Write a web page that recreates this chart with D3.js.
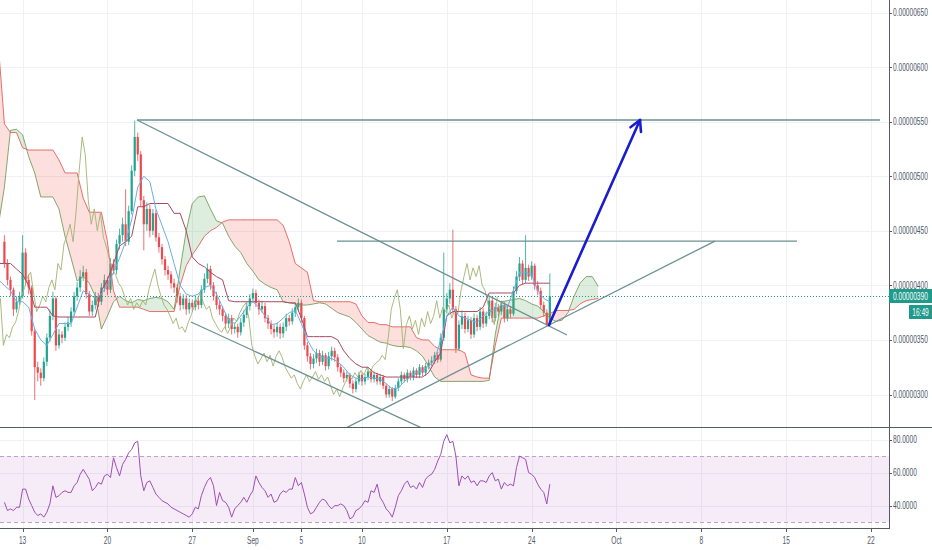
<!DOCTYPE html>
<html>
<head>
<meta charset="utf-8">
<script src="https://cdn.jsdelivr.net/npm/d3@7"></script>
<style>
  body { margin: 0; background: #fff; }
  text { font-family: "Liberation Sans", Arial, sans-serif; }
</style>
</head>
<body>
<script>
// prices are in units of 1e-8 (390 = 0.00000390)
const candleStart = "2018-08-11T12:00";
const candleStepHours = 6;

const opens = [
  440,420,405,396,378,385,390,430,405,398, 358,325,320,315,330,352,372,388,345,355,
  352,362,366,376,390,398,408,412,392,376, 382,390,385,398,405,396,420,414,438,446,
  456,440,468,505,536,520,478,456,470,450, 466,444,435,424,414,410,402,398,390,382,
  388,378,384,380,386,382,396,406,415,400, 390,382,378,372,365,370,360,362,357,366,
  373,381,388,393,384,378,381,370,365,360, 357,362,356,362,370,367,375,380,384,370,
  345,335,328,333,338,330,336,326,335,340, 334,325,320,315,318,310,305,312,318,312,
  316,321,314,318,312,316,308,300,305,298, 306,312,318,314,320,316,322,318,325,320,
  326,329,331,336,332,352,378,388,396,378, 342,364,372,360,368,355,370,362,376,365,
  372,386,370,380,376,382,370,378,374,395, 408,420,405,416,408,418,400,395,382,375,
  364
];
const highs = [
  446,424,408,398,390,394,446,434,410,400, 360,330,324,334,356,378,394,390,360,358,
  366,371,380,394,403,414,418,415,395,386, 394,393,402,410,408,425,424,442,452,462,
  488,473,510,551,540,523,482,476,474,470, 469,448,438,427,418,413,406,401,393,392,
  391,388,387,390,389,400,411,420,418,403, 394,386,381,375,374,373,366,365,370,377,
  385,392,397,396,387,386,384,373,368,364, 366,365,366,374,373,379,384,388,387,372,
  348,338,337,342,341,340,338,339,344,343, 337,328,323,321,320,313,315,321,320,319,
  324,323,321,320,319,318,310,308,307,309, 315,321,320,323,322,325,324,328,327,329,
  332,335,339,339,356,430,393,402,451,381, 368,377,375,372,371,374,373,380,379,376,
  390,389,384,383,386,385,382,381,399,413, 426,423,446,419,422,420,404,398,385,378,
  411
];
const lows = [
  416,400,390,372,375,382,388,400,392,354, 295,312,308,312,326,348,368,340,342,347,
  349,358,362,372,386,394,404,388,372,372, 378,380,382,394,391,393,410,410,433,440,
  436,437,465,500,514,472,432,450,444,446, 440,430,419,409,405,397,393,384,377,378,
  373,374,376,377,378,379,393,402,396,386, 378,373,367,360,361,355,356,352,354,362,
  370,377,384,380,373,375,366,360,355,352, 353,351,352,358,363,364,371,376,366,341,
  330,323,324,329,326,327,322,323,331,330, 321,316,311,312,306,301,302,309,308,309,
  313,311,311,309,309,305,297,297,294,296, 303,309,311,311,313,313,315,315,317,317,
  323,326,328,329,330,349,374,383,374,338, 340,360,356,357,351,352,358,359,361,362,
  369,366,367,372,373,366,367,370,372,392, 404,401,402,404,405,396,391,378,371,362,
  362
];
const closes = [
  420,405,396,378,385,390,430,405,398,358, 325,320,315,330,352,372,388,345,355,352,
  362,366,376,390,398,408,412,392,376,382, 390,385,398,405,396,420,414,438,446,456,
  440,468,505,536,520,478,456,470,450,466, 444,435,424,414,410,402,398,390,382,388,
  378,384,380,386,382,396,406,415,400,390, 382,378,372,365,370,360,362,357,366,373,
  381,388,393,384,378,381,370,365,360,357, 362,356,362,370,367,375,380,384,370,345,
  335,328,333,338,330,336,326,335,340,334, 325,320,315,318,310,305,312,318,312,316,
  321,314,318,312,316,308,300,305,298,306, 312,318,314,320,316,322,318,325,320,326,
  329,331,336,332,352,378,388,396,378,342, 364,372,360,368,355,370,362,376,365,372,
  386,370,380,376,382,370,378,374,395,408, 420,405,416,408,418,400,395,382,375,364,
  390
];
const rsiValues = [
  42,37,38,37,39,39,50,50,44,40, 36,34,35,33,36,41,52,45,46,48,
  49,48,48,52,54,59,62,59,56,49, 51,54,53,58,59,57,69,63,58,65,
  68,72,74,78,79,58,49,54,55,51, 47,45,43,42,41,39,38,37,36,35,
  34,33,35,39,38,46,51,55,57,52, 40,48,43,42,39,33,38,40,42,45,
  42,46,49,58,54,51,49,45,47,42, 43,47,49,48,50,50,57,52,54,47,
  39,35,36,39,42,44,43,40,38,40, 40,41,40,37,32,33,37,38,40,43,
  42,49,48,53,45,42,38,36,33,39, 46,49,53,55,51,52,50,54,51,56,
  58,59,62,67,71,79,83,78,79,70, 52,58,56,58,54,55,52,55,55,54,
  58,60,55,56,50,54,52,53,52,63, 70,69,68,60,59,57,53,50,48,41,
  53
];

// ichimoku lines, sampled every 12h
const ichiStart = "2018-08-11T00:00";
const ichiStepHours = 12;
const tenkan = [
  405,400,395,385,385,380,360,350,345,355, 365,365,365,380,395,392,388,392,400,412,
  425,440,460,490,500,495,470,455,440,420, 400,392,390,392,398,400,392,380,368,365,
  372,380,385,380,372,364,365,370,375,377, 365,350,340,335,333,333,330,325,318,315,
  314,316,315,314,310,305,306,312,316,320, 322,326,332,350,372,380,372,370,368,366,
  372,376,378,382,380,395,412,412,410,395, 388,385
];
const kijun = [
  420,420,420,415,410,400,380,380,380,372, 371,371,371,371,371,371,371,395,405,420,
  436,440,445,472,472,475,475,475,475,466, 466,450,426,420,417,412,408,405,386,385,
  385,385,385,385,385,385,385,385,384,384, 370,353,353,353,353,353,350,340,333,328,
  325,325,320,318,316,316,316,316,316,316, 316,320,330,338,372,376,376,376,376,376,
  380,393,393,393,393,393,400,402,402,402, 402,402
];
const spanA = [
  455,490,542,543,538,518,503,481,481,481, 470,445,425,404,408,402,390,360,372,385,
  390,386,384,387,386,388,389,388,385,378, 415,450,475,481,482,470,459,457,445,436,
  430,420,413,405,401,398,396,385,384,383, 382,382,383,384,383,379,375,373,371,366,
  360,354,351,348,347,345,344,344,343,340, 335,326,316,312,312,312,312,312,312,312,
  312,313,355,385,386,387,388,386,383,381, 376,370,367,368,375,390,402,408,408,399
];
const spanB = [
  620,548,540,540,526,524,524,524,524,524, 515,503,503,503,480,467,467,467,440,395,
  380,380,380,380,378,376,376,376,376,376, 400,418,428,436,445,450,453,458,460,460,
  460,460,460,460,460,460,460,455,440,420, 416,412,386,385,385,385,385,385,385,383,
  372,366,366,364,364,362,362,362,362,352, 350,350,344,341,341,341,341,338,318,316,
  315,315,345,370,370,370,370,370,370,370, 372,374,377,377,377,378,383,386,387,388
];
const chikouShiftHours = 104; // 26 bars of 4h

const priceTicks = [300, 350, 400, 450, 500, 550, 600, 650];
const rsiTicks = [40, 60, 80];
const rsiBands = [30, 70];
const timeTicks = [
  ["2018-08-13", "13"], ["2018-08-20", "20"], ["2018-08-27", "27"], ["2018-09-01", "Sep"],
  ["2018-09-05", "5"], ["2018-09-10", "10"], ["2018-09-17", "17"], ["2018-09-24", "24"],
  ["2018-10-01", "Oct"], ["2018-10-08", "8"], ["2018-10-15", "15"], ["2018-10-22", "22"]
];
const lastPrice = 390;
const countdown = "16:49";

// drawings: [time, price] anchors
const trendLines = [
  [["2018-08-22T10:30", 551.5], ["2018-10-22T17:45", 551.5]],
  [["2018-08-22T10:30", 551.5], ["2018-09-26T22:00", 354.5]],
  [["2018-08-26T21:30", 366.4], ["2018-09-16T02:30", 263.4]],
  [["2018-09-08T04:30", 266.6], ["2018-10-09T03:00", 440.6]],
  [["2018-09-07T22:30", 440.6], ["2018-10-15T21:30", 440.6]]
];
const arrowLine = [["2018-09-25T10:20", 363.7], ["2018-10-02T22:35", 551.5]];

// ---------- layout ----------
const width = 932, height = 550;
const plotRight = 889;
const mainBottom = 427;
const rsiBottom = 528;
const narrow = 0.66; // axis font in the original is very condensed

const parseT = d3.utcParse("%Y-%m-%dT%H:%M");
const parseD = d3.utcParse("%Y-%m-%d");
const HOUR = 3600e3;

const x = d3.scaleUtc()
  .domain([parseD("2018-08-13"), parseD("2018-10-22")])
  .range([22.6, 871]);
const yP = d3.scaleLinear().domain([300, 650]).range([394.5, 12.5]);
const yR = d3.scaleLinear().domain([40, 80]).range([505.6, 439.6]);

const t0 = parseT(candleStart);
const candleTimes = closes.map((_, i) => new Date(+t0 + i * candleStepHours * HOUR));
const ti0 = parseT(ichiStart);
const ichiTime = k => new Date(+ti0 + k * ichiStepHours * HOUR);

const svg = d3.select("body").append("svg")
  .attr("width", width).attr("height", height);

const defs = svg.append("defs");
defs.append("clipPath").attr("id", "mainClip")
  .append("rect").attr("x", 0).attr("y", 0).attr("width", plotRight).attr("height", mainBottom);
defs.append("clipPath").attr("id", "rsiClip")
  .append("rect").attr("x", 0).attr("y", mainBottom).attr("width", plotRight).attr("height", rsiBottom - mainBottom);

// grid
const grid = svg.append("g").attr("stroke", "#eef1f5").attr("stroke-width", 1);
timeTicks.forEach(([d]) => {
  const px = Math.round(x(parseD(d))) + 0.5;
  grid.append("line").attr("x1", px).attr("x2", px).attr("y1", 0).attr("y2", rsiBottom);
});
priceTicks.forEach(p => {
  const py = Math.round(yP(p)) + 0.5;
  grid.append("line").attr("x1", 0).attr("x2", plotRight).attr("y1", py).attr("y2", py);
});
rsiTicks.forEach(v => {
  const py = Math.round(yR(v)) + 0.5;
  grid.append("line").attr("x1", 0).attr("x2", plotRight).attr("y1", py).attr("y2", py);
});

// ---------- main pane ----------
const main = svg.append("g").attr("clip-path", "url(#mainClip)");

// candles
const candles = main.append("g");
closes.forEach((c, i) => {
  const o = opens[i];
  const up = c >= o;
  const col = up ? "#22a48e" : "#ec4a4f";
  const cx = x(candleTimes[i]);
  candles.append("line")
    .attr("x1", cx).attr("x2", cx)
    .attr("y1", yP(highs[i])).attr("y2", yP(lows[i]))
    .attr("stroke", col).attr("stroke-width", 0.8);
  const top = yP(Math.max(o, c)), bot = yP(Math.min(o, c));
  candles.append("rect")
    .attr("x", cx - 1.1).attr("width", 2.2)
    .attr("y", top).attr("height", Math.max(0.8, bot - top))
    .attr("fill", col);
});

// cloud
const cloud = spanA.map((a, k) => ({ t: ichiTime(k), a: a, b: spanB[k] }));
const aboveB = d3.area().x(d => x(d.t)).y0(d => yP(d.b)).y1(0);
const belowB = d3.area().x(d => x(d.t)).y0(d => yP(d.b)).y1(mainBottom);
defs.append("clipPath").attr("id", "greenClip").append("path").attr("d", aboveB(cloud));
defs.append("clipPath").attr("id", "redClip").append("path").attr("d", belowB(cloud));
const between = d3.area().x(d => x(d.t)).y0(d => yP(d.b)).y1(d => yP(d.a));
main.append("path").attr("d", between(cloud))
  .attr("fill", "#43a047").attr("fill-opacity", 0.18).attr("clip-path", "url(#greenClip)");
main.append("path").attr("d", between(cloud))
  .attr("fill", "#f44336").attr("fill-opacity", 0.17).attr("clip-path", "url(#redClip)");

const ichiLine = d3.line().x((d, k) => x(ichiTime(k))).y(d => yP(d));
main.append("path").attr("d", ichiLine(spanA))
  .attr("fill", "none").attr("stroke", "#6f9a52").attr("stroke-opacity", 0.85).attr("stroke-width", 1);
main.append("path").attr("d", ichiLine(spanB))
  .attr("fill", "none").attr("stroke", "#e2615b").attr("stroke-opacity", 0.9).attr("stroke-width", 1);

// lagging span: closes plotted 26 bars back
const chikou = d3.line()
  .x((d, i) => x(new Date(+candleTimes[i] - chikouShiftHours * HOUR)))
  .y(d => yP(d));
main.append("path").attr("d", chikou(closes))
  .attr("fill", "none").attr("stroke", "#a2b271").attr("stroke-opacity", 0.9).attr("stroke-width", 1);

main.append("path").attr("d", ichiLine(kijun))
  .attr("fill", "none").attr("stroke", "#a84a61").attr("stroke-width", 1);
main.append("path").attr("d", ichiLine(tenkan))
  .attr("fill", "none").attr("stroke", "#6aaeea").attr("stroke-width", 1);

// last price line
const lpY = Math.round(yP(lastPrice)) + 0.5;
main.append("line").attr("x1", 0).attr("x2", plotRight).attr("y1", lpY).attr("y2", lpY)
  .attr("stroke", "#1f9a8b").attr("stroke-width", 1).attr("stroke-dasharray", "1,2");

// drawings
const pt = ([t, p]) => [x(parseT(t)), yP(p)];
trendLines.forEach(seg => {
  const [a, b] = seg.map(pt);
  main.append("line").attr("x1", a[0]).attr("y1", a[1]).attr("x2", b[0]).attr("y2", b[1])
    .attr("stroke", "#6a9192").attr("stroke-width", 1.3);
});
const [aS, aE] = arrowLine.map(pt);
main.append("line").attr("x1", aS[0]).attr("y1", aS[1]).attr("x2", aE[0]).attr("y2", aE[1])
  .attr("stroke", "#1b1bd0").attr("stroke-width", 2.6).attr("stroke-linecap", "round");
const back = Math.atan2(aS[1] - aE[1], aS[0] - aE[0]);
[-0.5, 0.5].forEach(da => {
  main.append("line")
    .attr("x1", aE[0]).attr("y1", aE[1])
    .attr("x2", aE[0] + 12 * Math.cos(back + da)).attr("y2", aE[1] + 12 * Math.sin(back + da))
    .attr("stroke", "#1b1bd0").attr("stroke-width", 2.6).attr("stroke-linecap", "round");
});

// ---------- RSI pane ----------
const rsiG = svg.append("g").attr("clip-path", "url(#rsiClip)");
rsiG.append("rect")
  .attr("x", 0).attr("width", plotRight)
  .attr("y", yR(rsiBands[1])).attr("height", yR(rsiBands[0]) - yR(rsiBands[1]))
  .attr("fill", "#9c27b0").attr("fill-opacity", 0.09);
rsiBands.forEach(v => {
  const py = Math.round(yR(v)) + 0.5;
  rsiG.append("line").attr("x1", 0).attr("x2", plotRight).attr("y1", py).attr("y2", py)
    .attr("stroke", "#b9a3c8").attr("stroke-dasharray", "4,3");
});
const rsiLine = d3.line().x((d, i) => x(candleTimes[i])).y(d => yR(d));
rsiG.append("path").attr("d", rsiLine(rsiValues))
  .attr("fill", "none").attr("stroke", "#9d4fb5").attr("stroke-width", 1);

// ---------- frame & axes ----------
const frame = svg.append("g").attr("stroke", "#555a64").attr("stroke-width", 1);
frame.append("line").attr("x1", 0).attr("x2", width).attr("y1", mainBottom + 0.5).attr("y2", mainBottom + 0.5);
frame.append("line").attr("x1", 0).attr("x2", plotRight).attr("y1", rsiBottom + 0.5).attr("y2", rsiBottom + 0.5);
frame.append("line").attr("x1", plotRight + 0.5).attr("x2", plotRight + 0.5).attr("y1", 0).attr("y2", rsiBottom + 1);

// condensed label: text drawn at the origin and placed with a scaled transform
function label(g, px, py, str, anchor, fill) {
  return g.append("text")
    .attr("transform", `translate(${px},${py}) scale(${narrow},1)`)
    .attr("dy", "0.35em")
    .attr("text-anchor", anchor)
    .attr("fill", fill)
    .text(str);
}

const axisG = svg.append("g").attr("font-size", 10);
priceTicks.forEach(p => {
  const py = yP(p);
  axisG.append("line").attr("x1", plotRight).attr("x2", plotRight + 3)
    .attr("y1", Math.round(py) + 0.5).attr("y2", Math.round(py) + 0.5).attr("stroke", "#555a64");
  label(axisG, 893, py, (p * 1e-8).toFixed(8), "start", "#4f5966");
});
rsiTicks.forEach(v => {
  const py = yR(v);
  axisG.append("line").attr("x1", plotRight).attr("x2", plotRight + 3)
    .attr("y1", Math.round(py) + 0.5).attr("y2", Math.round(py) + 0.5).attr("stroke", "#555a64");
  label(axisG, 893, py, v.toFixed(4), "start", "#4f5966");
});
timeTicks.forEach(([d, str]) => {
  const px = x(parseD(d));
  axisG.append("line").attr("x1", Math.round(px) + 0.5).attr("x2", Math.round(px) + 0.5)
    .attr("y1", rsiBottom).attr("y2", rsiBottom + 4).attr("stroke", "#555a64");
  label(axisG, px, 540, str, "middle", "#4f5966");
});

// last price tag
const tag = svg.append("g").attr("font-size", 10);
tag.append("rect").attr("x", plotRight).attr("y", lpY - 7.5).attr("width", width - plotRight).attr("height", 14)
  .attr("fill", "#1f9a8b");
label(tag, 893, lpY, (lastPrice * 1e-8).toFixed(8), "start", "#fff");
tag.append("rect").attr("x", 909).attr("y", lpY + 8.5).attr("width", width - 909).attr("height", 14)
  .attr("fill", "#1f9a8b");
label(tag, 920.5, lpY + 15.5, countdown, "middle", "#fff");
</script>
</body>
</html>
